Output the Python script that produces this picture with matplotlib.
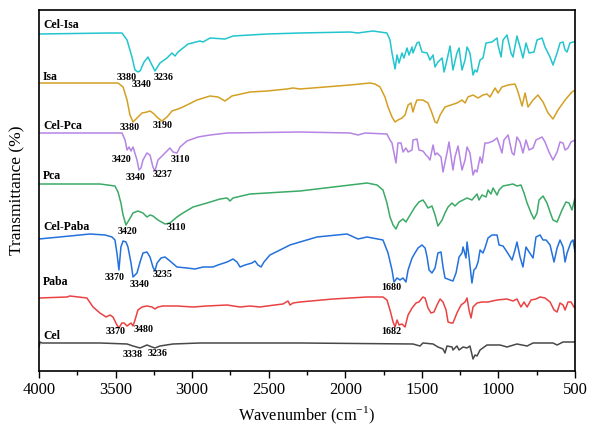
import matplotlib.pyplot as plt
from matplotlib.ticker import MultipleLocator

plt.rcParams["font.family"] = ["Liberation Serif", "DejaVu Serif"]
plt.rcParams["mathtext.fontset"] = "custom"
plt.rcParams["mathtext.rm"] = "Liberation Serif"

# FTIR spectra (wavenumber in cm-1, transmittance in stacked arbitrary units)
cel_isa_wn = [4000, 3536, 3458, 3425, 3393, 3373, 3354, 3340, 3314, 3288, 3269, 3243, 3210, 3164, 3132,
              3112, 3092, 3027, 2949, 2929, 2883, 2785, 2733, 2511, 2296, 1969, 1917, 1871, 1819, 1728,
              1708, 1695, 1675, 1662, 1649, 1630, 1617, 1597, 1584, 1564, 1558, 1532, 1519, 1499, 1466,
              1447, 1427, 1414, 1395, 1368, 1355, 1336, 1316, 1297, 1271, 1257, 1238, 1218, 1205, 1186,
              1166, 1153, 1140, 1120, 1101, 1081, 1042, 1009, 1003, 983, 970, 944, 918, 905, 879, 859,
              840, 820, 800, 768, 748, 715, 696, 663, 644, 617, 598, 578, 565, 552, 533, 513, 500]
cel_isa_t = [337, 338, 338, 331, 314, 301, 299, 300, 309, 314, 308, 300, 308, 313, 318,
             315, 319, 327, 330, 329, 333, 332, 335, 337, 338, 339, 338, 339, 340, 338,
             331, 318, 302, 316, 308, 318, 313, 323, 316, 324, 318, 328, 329, 319, 318,
             311, 316, 304, 309, 313, 299, 311, 325, 301, 318, 323, 301, 311, 324, 318,
             296, 301, 299, 311, 313, 328, 329, 333, 326, 314, 331, 336, 318, 314, 335, 324,
             313, 328, 318, 319, 331, 333, 324, 314, 306, 318, 328, 329, 321, 319, 328, 329, 329]

isa_wn = [4000, 3484, 3451, 3425, 3406, 3386, 3360, 3327, 3295, 3275, 3256, 3223, 3197, 3164, 3132,
          3092, 3060, 2968, 2883, 2831, 2785, 2740, 2622, 2511, 2381, 2341, 2296, 1969, 1839, 1806,
          1773, 1741, 1721, 1695, 1675, 1656, 1630, 1610, 1590, 1571, 1558, 1545, 1532, 1493, 1460,
          1434, 1414, 1401, 1381, 1349, 1271, 1238, 1218, 1199, 1166, 1133, 1101, 1075, 1055, 1022,
          1003, 977, 937, 892, 872, 846, 826, 807, 774, 742, 709, 676, 644, 611, 565, 520, 500]
isa_t = [288, 288, 284, 271, 256, 249, 253, 258, 259, 260, 258, 253, 250, 254, 260,
         262, 264, 271, 275, 274, 270, 275, 279, 280, 282, 283, 282, 286, 288, 287,
         284, 274, 264, 254, 249, 251, 253, 256, 266, 268, 259, 266, 271, 271, 268,
         258, 249, 248, 256, 264, 268, 271, 268, 274, 276, 273, 276, 277, 274, 283,
         278, 284, 286, 287, 279, 265, 278, 264, 271, 276, 269, 258, 252, 261, 271, 279, 281]

cel_pca_wn = [4000, 3458, 3438, 3425, 3412, 3399, 3386, 3360, 3347, 3334, 3321, 3295, 3275, 3256, 3243,
              3223, 3190, 3145, 3125, 3099, 3079, 3034, 2962, 2883, 2772, 2296, 1969, 1917, 1871, 1728,
              1708, 1695, 1682, 1669, 1656, 1636, 1623, 1604, 1590, 1564, 1558, 1532, 1519, 1493, 1473,
              1460, 1447, 1427, 1414, 1401, 1375, 1362, 1336, 1323, 1297, 1284, 1264, 1238, 1218, 1205,
              1186, 1166, 1153, 1140, 1120, 1107, 1088, 1068, 1035, 1009, 996, 977, 964, 937, 911, 898,
              879, 859, 840, 820, 800, 774, 755, 715, 696, 670, 644, 617, 598, 578, 565, 546, 526, 500]
cel_pca_t = [238, 238, 231, 221, 224, 220, 224, 211, 201, 203, 211, 218, 216, 204, 200,
             211, 216, 223, 219, 218, 224, 230, 234, 236, 238, 239, 238, 236, 238, 237,
             231, 228, 218, 208, 228, 228, 219, 223, 219, 221, 231, 232, 221, 220, 216,
             214, 211, 226, 216, 218, 214, 199, 218, 229, 201, 214, 225, 201, 211, 224,
             218, 196, 201, 199, 214, 208, 228, 228, 230, 233, 227, 218, 231, 236, 218, 216,
             234, 229, 218, 231, 221, 223, 231, 234, 229, 219, 211, 219, 229, 228, 221, 223, 229, 231]

pca_wn = [4000, 3602, 3504, 3484, 3465, 3451, 3432, 3412, 3386, 3354, 3321, 3295, 3275, 3256, 3223,
          3177, 3145, 3099, 3060, 2994, 2903, 2818, 2772, 2753, 2733, 2622, 2511, 2407, 2296, 1858,
          1793, 1754, 1728, 1708, 1688, 1669, 1649, 1623, 1604, 1577, 1545, 1519, 1493, 1479, 1460,
          1434, 1414, 1395, 1368, 1349, 1329, 1303, 1284, 1257, 1231, 1205, 1173, 1140, 1127, 1107,
          1081, 1068, 1049, 1035, 1009, 996, 970, 937, 905, 879, 853, 833, 813, 787, 768, 748, 735,
          709, 683, 663, 644, 617, 585, 559, 539, 520, 507, 500]
pca_t = [187, 187, 185, 179, 168, 156, 146, 151, 158, 160, 158, 154, 156, 155, 151,
         147, 148, 154, 158, 164, 168, 172, 173, 170, 173, 177, 178, 179, 180, 188,
         186, 181, 168, 154, 146, 142, 149, 152, 149, 156, 164, 169, 171, 168, 163,
         165, 156, 145, 151, 158, 164, 168, 165, 169, 171, 173, 171, 177, 171, 176,
         174, 181, 177, 183, 176, 181, 185, 186, 187, 185, 186, 178, 168, 158, 152, 158, 171,
         175, 168, 159, 151, 149, 161, 169, 168, 161, 169, 173]

cel_paba_wn = [4000, 3798, 3667, 3569, 3523, 3504, 3491, 3478, 3465, 3451, 3432, 3419, 3399, 3386, 3360,
               3340, 3321, 3295, 3275, 3256, 3243, 3229, 3203, 3177, 3145, 3099, 3034, 2981, 2929, 2864,
               2831, 2772, 2733, 2707, 2687, 2655, 2609, 2590, 2570, 2550, 2531, 2492, 2426, 2361, 2296,
               2185, 1989, 1917, 1858, 1754, 1721, 1695, 1682, 1662, 1643, 1623, 1604, 1590, 1564, 1545,
               1525, 1499, 1479, 1466, 1453, 1434, 1414, 1395, 1375, 1362, 1349, 1316, 1297, 1277, 1257,
               1238, 1231, 1212, 1205, 1192, 1173, 1160, 1147, 1133, 1120, 1101, 1088, 1068, 1042, 1009,
               996, 970, 944, 911, 892, 879, 859, 840, 820, 800, 774, 755, 728, 709, 689, 663, 637, 617,
               598, 578, 565, 552, 526, 513, 500]
cel_paba_t = [132, 135, 137, 136, 134, 131, 118, 101, 124, 130, 129, 124, 108, 94, 98,
              109, 118, 119, 114, 104, 100, 108, 113, 114, 110, 104, 103, 102, 104, 104,
              106, 109, 112, 109, 104, 106, 108, 110, 106, 104, 109, 116, 121, 126, 129,
              134, 137, 132, 134, 131, 118, 101, 89, 93, 91, 93, 89, 101, 113, 118,
              123, 126, 123, 114, 101, 98, 103, 118, 119, 104, 93, 91, 90, 98, 114,
              118, 124, 113, 129, 114, 88, 101, 103, 109, 121, 118, 123, 133, 136, 136,
              126, 125, 119, 111, 121, 129, 114, 104, 124, 119, 113, 134, 136, 131, 131, 126, 109, 123,
              131, 124, 109, 118, 129, 131, 119]

paba_wn = [4000, 3817, 3798, 3687, 3647, 3602, 3562, 3536, 3517, 3491, 3478, 3458, 3445, 3425, 3399,
           3386, 3373, 3354, 3327, 3295, 3262, 3243, 3223, 3190, 3099, 2994, 2903, 2772, 2687, 2622,
           2557, 2511, 2407, 2374, 2361, 2341, 2296, 2080, 1858, 1754, 1728, 1708, 1688, 1675, 1662,
           1649, 1630, 1610, 1590, 1564, 1538, 1519, 1493, 1479, 1460, 1440, 1421, 1401, 1381, 1362,
           1342, 1329, 1310, 1297, 1271, 1244, 1218, 1205, 1192, 1179, 1166, 1140, 1107, 1068, 1009,
           944, 905, 879, 853, 833, 813, 787, 755, 728, 696, 663, 637, 617, 598, 578, 565, 546, 526,
           507, 500]
paba_t = [73, 74, 75, 73, 64, 58, 54, 56, 54, 46, 43, 48, 48, 45, 48,
          45, 51, 61, 64, 65, 64, 62, 64, 65, 65, 64, 65, 66, 64, 65,
          64, 65, 67, 70, 66, 68, 69, 72, 74, 74, 71, 61, 49, 44, 51,
          46, 47, 44, 56, 63, 68, 69, 74, 73, 63, 58, 59, 66, 72, 69,
          61, 49, 48, 48, 58, 66, 69, 73, 61, 53, 64, 68, 69, 69, 71,
          72, 70, 72, 64, 69, 64, 71, 72, 74, 73, 69, 61, 59, 68, 66, 61, 69, 69,
          64, 63]

cel_wn = [4000, 3993, 3980, 3602, 3425, 3386, 3340, 3295, 3262, 3243, 3210, 3125, 2949, 2296, 1558,
          1512, 1493, 1427, 1395, 1362, 1349, 1336, 1303, 1297, 1271, 1257, 1231, 1205, 1186, 1166,
          1153, 1140, 1120, 1075, 990, 944, 879, 813, 774, 644, 617, 578, 500]
cel_t = [24, 29, 28, 28, 27, 25, 23, 26, 24, 23, 25, 27, 28, 28, 27,
         25, 28, 27, 24, 22, 18, 25, 24, 21, 25, 21, 24, 23, 25, 12,
         16, 15, 21, 26, 26, 24, 27, 25, 28, 28, 26, 29, 29]

spectra = [
    ("Cel-Isa", cel_isa_wn, cel_isa_t, "#22C5CE"),
    ("Isa", isa_wn, isa_t, "#D3A023"),
    ("Cel-Pca", cel_pca_wn, cel_pca_t, "#B584E4"),
    ("Pca", pca_wn, pca_t, "#3BAA66"),
    ("Cel-Paba", cel_paba_wn, cel_paba_t, "#2371DC"),
    ("Paba", paba_wn, paba_t, "#EA4242"),
    ("Cel", cel_wn, cel_t, "#484848"),
]

# sample name labels (left side) and peak labels
names = [("Cel-Isa", 346), ("Isa", 294), ("Cel-Pca", 245), ("Pca", 195),
         ("Cel-Paba", 144), ("Paba", 89), ("Cel", 35)]
peaks = [
    ("3380", 3425, 294), ("3340", 3327, 287), ("3236", 3184, 294),
    ("3380", 3406, 243), ("3190", 3190, 245),
    ("3420", 3458, 211), ("3340", 3367, 193), ("3237", 3190, 196), ("3110", 3079, 211),
    ("3420", 3419, 139), ("3110", 3105, 143),
    ("3370", 3504, 93), ("3340", 3340, 86), ("3235", 3190, 96), ("1680", 1702, 83),
    ("3370", 3497, 39), ("3480", 3314, 41), ("1682", 1702, 39),
    ("3338", 3386, 16), ("3236", 3223, 17),
]

fig = plt.figure(figsize=(5.96, 4.33), dpi=100)
ax = fig.add_axes([0.0654, 0.1432, 0.8994, 0.8337])

for name, wn, t, color in spectra:
    ax.plot(wn, t, color=color, lw=1.1)

for name, y in names:
    ax.text(3974, y, name, ha="left", va="center", fontsize=8.5, fontweight="bold")
for label, x, y in peaks:
    ax.text(x, y, label, ha="center", va="center", fontsize=7.2, fontweight="bold")

ax.set_xlim(4000, 500)
ax.set_ylim(0, 361)
ax.set_yticks([])
ax.xaxis.set_major_locator(MultipleLocator(500))
ax.xaxis.set_minor_locator(MultipleLocator(250))
ax.tick_params(axis="x", which="both", direction="out", top=False, labelsize=12)
ax.tick_params(axis="x", which="major", length=5, width=1, pad=3)
ax.tick_params(axis="x", which="minor", length=3, width=1)
for s in ax.spines.values():
    s.set_linewidth(1.2)

ax.set_xlabel("Wavenumber (cm$^{-1}$)", fontsize=11.8, labelpad=5)
ax.set_ylabel("Transmittance (%)", fontsize=12.5, labelpad=10)

fig.savefig("out.png", dpi=100)
